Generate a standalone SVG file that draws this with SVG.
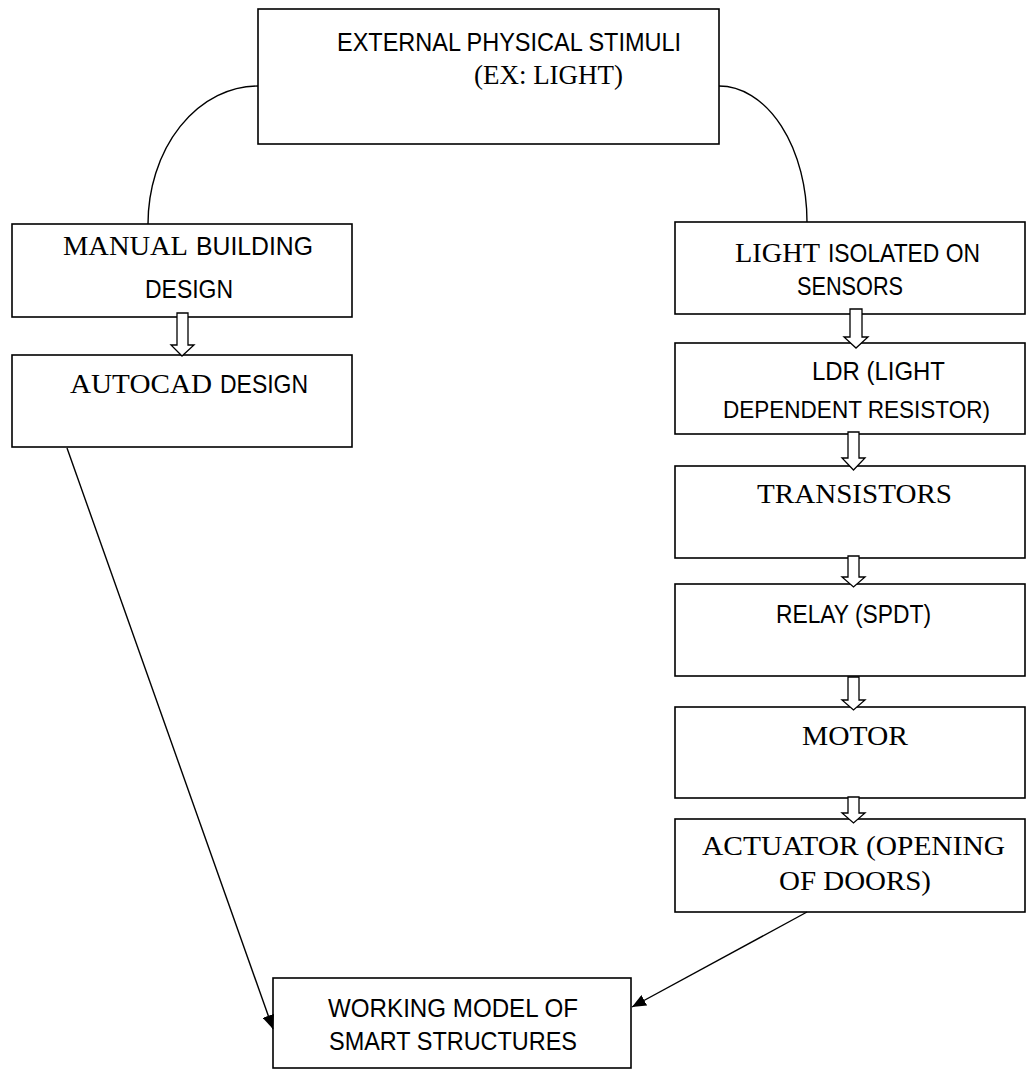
<svg xmlns="http://www.w3.org/2000/svg" width="1029" height="1070" viewBox="0 0 1029 1070">
<style>
.box{fill:#fff;stroke:#000;stroke-width:1.6}
.s{font-family:"Liberation Sans",Arial,sans-serif;font-size:26px;fill:#000}
.s24{font-size:24px}
.r{font-family:"Liberation Serif","Times New Roman",serif;font-size:28px;fill:#000}
.c{fill:none;stroke:#000;stroke-width:1.4}
.h{fill:#fff;stroke:#000;stroke-width:1.3}
</style>
<defs>
<marker id="ah" markerWidth="14" markerHeight="12" refX="14" refY="6" orient="auto" markerUnits="userSpaceOnUse">
<path d="M0,0 L14,6 L0,12 z" fill="#000"/>
</marker>
</defs>
<rect width="1029" height="1070" fill="#fff"/>
<g id="n-stimuli">
<rect class="box" x="258" y="9" width="461" height="135"/>
<text class="s" x="337" y="51" textLength="344" lengthAdjust="spacingAndGlyphs">EXTERNAL PHYSICAL STIMULI</text>
<text class="r" x="474" y="84" textLength="149" lengthAdjust="spacingAndGlyphs">(EX: LIGHT)</text>
</g>
<g id="n-manual">
<rect class="box" x="12" y="224" width="340" height="93"/>
<text class="r" x="63" y="255" textLength="125" lengthAdjust="spacingAndGlyphs">MANUAL</text>
<text class="s" x="196" y="255" textLength="117" lengthAdjust="spacingAndGlyphs">BUILDING</text>
<text class="s" x="145" y="298" textLength="88" lengthAdjust="spacingAndGlyphs">DESIGN</text>
</g>
<g id="n-autocad">
<rect class="box" x="12" y="355" width="340" height="92"/>
<text class="r" x="70" y="393" textLength="142" lengthAdjust="spacingAndGlyphs">AUTOCAD</text>
<text class="s" x="220" y="393" textLength="88" lengthAdjust="spacingAndGlyphs">DESIGN</text>
</g>
<g id="n-sensors">
<rect class="box" x="675" y="222" width="350" height="92"/>
<text class="r" x="735" y="262" textLength="85" lengthAdjust="spacingAndGlyphs">LIGHT</text>
<text class="s" x="828" y="262" textLength="152" lengthAdjust="spacingAndGlyphs">ISOLATED ON</text>
<text class="s" x="797" y="295" textLength="106" lengthAdjust="spacingAndGlyphs">SENSORS</text>
</g>
<g id="n-ldr">
<rect class="box" x="675" y="343" width="350" height="91"/>
<text class="s" x="812" y="380" textLength="133" lengthAdjust="spacingAndGlyphs">LDR (LIGHT</text>
<text class="s s24" x="723" y="418" textLength="267" lengthAdjust="spacingAndGlyphs">DEPENDENT RESISTOR)</text>
</g>
<g id="n-transistors">
<rect class="box" x="675" y="466" width="350" height="92"/>
<text class="r" x="757" y="503" textLength="195" lengthAdjust="spacingAndGlyphs">TRANSISTORS</text>
</g>
<g id="n-relay">
<rect class="box" x="675" y="584" width="350" height="92"/>
<text class="s" x="776" y="623" textLength="155" lengthAdjust="spacingAndGlyphs">RELAY (SPDT)</text>
</g>
<g id="n-motor">
<rect class="box" x="675" y="707" width="350" height="91"/>
<text class="r" x="802" y="745" textLength="106" lengthAdjust="spacingAndGlyphs">MOTOR</text>
</g>
<g id="n-actuator">
<rect class="box" x="675" y="819" width="350" height="93"/>
<text class="r" x="702" y="855" textLength="303" lengthAdjust="spacingAndGlyphs">ACTUATOR (OPENING</text>
<text class="r" x="779" y="890" textLength="152" lengthAdjust="spacingAndGlyphs">OF DOORS)</text>
</g>
<g id="n-model">
<rect class="box" x="273" y="978" width="358" height="90"/>
<text class="s" x="328" y="1017" textLength="250" lengthAdjust="spacingAndGlyphs">WORKING MODEL OF</text>
<text class="s" x="329" y="1050" textLength="248" lengthAdjust="spacingAndGlyphs">SMART STRUCTURES</text>
</g>
<g id="connectors">
<path class="c" d="M258,86 A110,138 0 0 0 148,224"/>
<path class="c" d="M719,86 A88,136 0 0 1 807,222"/>
<line class="c" x1="67" y1="448" x2="273" y2="1029" marker-end="url(#ah)"/>
<line class="c" x1="807" y1="912" x2="632" y2="1007" marker-end="url(#ah)"/>
<polygon class="h" points="177,313 188,313 188,345 194,345 182,356 171,345 177,345"/>
<polygon class="h" points="850,309 862,309 862,337 868,337 856,348 844,337 850,337"/>
<polygon class="h" points="848,432 859,432 859,458 865,458 853.5,470 842,458 848,458"/>
<polygon class="h" points="848,556 859,556 859,577 865,577 853.5,587 842,577 848,577"/>
<polygon class="h" points="848,677 859,677 859,700 865,700 853.5,710 842,700 848,700"/>
<polygon class="h" points="848,797 859,797 859,813 865,813 853.5,823 842,813 848,813"/>
</g>
</svg>
